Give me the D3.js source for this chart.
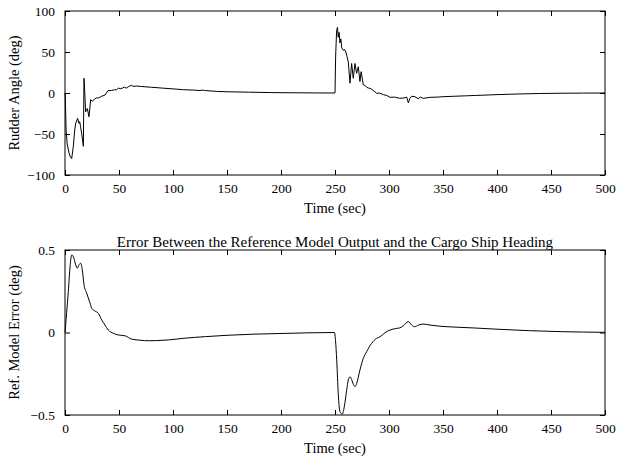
<!DOCTYPE html>
<html>
<head>
<meta charset="utf-8">
<script src="https://cdn.jsdelivr.net/npm/d3@7"></script>
<style>
  html, body { margin: 0; padding: 0; background: #fff; }
  svg { display: block; }
  text { font-family: "Liberation Serif", "Times New Roman", serif; fill: #000; }
</style>
</head>
<body>
<svg id="chart" width="618" height="459"></svg>
<script>
// Rudder command (deg) over time (sec)
const rudderTime = [0, 0.3, 1, 2, 3.7, 5, 6.2, 7.7, 9, 9.9, 11, 11.7, 12.9, 13.6, 14.4, 15.5, 17, 17.6, 18.5, 19.1, 20, 20.7, 22.2, 23.8, 25.3, 27, 29, 31, 34, 37, 40, 43, 46, 47.8, 49.4, 51, 53, 55, 57, 59, 61.7, 63, 66, 70, 75, 80, 90, 100, 110, 120, 125, 127, 130, 140, 150, 170, 190, 210, 230, 249.5,
  250, 250.6, 251.5, 252.3, 253, 253.8, 254.6, 255.4, 256.3, 257.7, 259, 260, 261, 262.3, 263.9, 265.4, 266.9, 268.5, 270, 271.6, 273.1, 274.2, 276.2, 278, 279.3, 281, 282.4, 284, 285.5, 288.6, 291, 294.8, 298, 301, 305, 310, 314, 316.4, 317.9, 319.4, 321, 324, 327, 329, 331.8, 338, 345, 350, 360, 370, 380, 400, 420, 440, 460, 480, 500];
const rudderAngle = [0, -6, -45, -62, -73, -78, -80, -65, -45, -37, -33, -31, -37, -35, -41, -50, -65, 18, -5, -23, -20, -19, -29, -8, -10, -8, -6, -6, -4, -2.5, 3, 3, 4, 4, 6, 5, 6, 7, 6, 8, 9.5, 8, 8.5, 8, 7.5, 7, 6, 5, 4, 3.5, 3, 3.5, 3, 2, 1.5, 1, 0.5, 0.3, 0.1, 0,
  0, 45, 76, 80, 68, 74, 61, 66, 55, 52, 53, 50, 45, 38, 12, 36, 18, 36, 24, 32, 14, 26, 10, 9, 7, 6, 5.7, 4.4, 3, -0.4, 0, -2, -3, -5.3, -5, -6.5, -6, -5, -12, -6.5, -4, -4.5, -7, -5, -6.5, -5.3, -5, -4.5, -4, -3.5, -3, -2, -1.2, -0.6, -0.3, -0.1, 0];

// Reference model output minus ship heading (deg)
const errorTime = [0, 1.5, 3.1, 4.7, 6.2, 7.7, 9.9, 11.4, 12.9, 14.5, 16, 17.6, 20, 23.1, 24.7, 27.8, 30.9, 34, 37, 40.1, 44.8, 49.4, 55.6, 61.7, 70, 77, 85, 95.7, 110, 130, 150, 175, 200, 225, 249.5,
  250.5, 251.6, 253, 254.6, 256.8, 258.6, 260.8, 262.3, 263.9, 265.4, 267, 268.5, 270, 273.1, 276.2, 279.3, 283.9, 288.6, 291.7, 296.3, 301, 307.1, 310, 313.3, 317.9, 321, 324, 327.2, 331.8, 338, 347.2, 360, 380, 400, 430, 460, 500];
const modelError = [0, 0.12, 0.25, 0.4, 0.47, 0.46, 0.41, 0.39, 0.41, 0.42, 0.38, 0.29, 0.24, 0.18, 0.147, 0.13, 0.116, 0.076, 0.045, 0.015, -0.005, -0.015, -0.02, -0.04, -0.047, -0.05, -0.049, -0.045, -0.035, -0.025, -0.017, -0.01, -0.006, -0.002, 0,
  -0.05, -0.167, -0.37, -0.48, -0.494, -0.45, -0.35, -0.288, -0.268, -0.285, -0.315, -0.328, -0.31, -0.227, -0.157, -0.116, -0.066, -0.035, -0.026, -0.001, 0.015, 0.025, 0.028, 0.041, 0.066, 0.045, 0.035, 0.045, 0.051, 0.045, 0.038, 0.033, 0.027, 0.02, 0.011, 0.005, 0.001];

const timeTicks = [0, 50, 100, 150, 200, 250, 300, 350, 400, 450, 500];
const rudderTicks = [-100, -50, 0, 50, 100];
const errorTicks = [-0.5, 0, 0.5];

const svg = d3.select("#chart");
const left = 65, right = 605, tickLen = 5;

function panel(cfg) {
  const x = d3.scaleLinear().domain([0, 500]).range([left, right]);
  const y = d3.scaleLinear().domain(cfg.domain).range([cfg.bottom, cfg.top]);
  const g = svg.append("g");

  // x axis below, with inward ticks
  g.append("g")
    .attr("transform", `translate(0,${cfg.bottom})`)
    .call(d3.axisBottom(x).tickValues(timeTicks).tickFormat(d3.format("d")).tickSizeInner(-tickLen).tickSizeOuter(0).tickPadding(8))
    .call(a => a.select(".domain").remove())
    .call(a => a.selectAll("text").attr("font-size", 13.5).attr("font-family", "Liberation Serif"));
  // mirrored ticks on top edge
  g.append("g")
    .attr("transform", `translate(0,${cfg.top})`)
    .call(d3.axisTop(x).tickValues(timeTicks).tickFormat("").tickSizeInner(-tickLen).tickSizeOuter(0))
    .call(a => a.select(".domain").remove());
  // y axis, inward ticks
  g.append("g")
    .attr("transform", `translate(${left},0)`)
    .call(d3.axisLeft(y).tickValues(cfg.ticks).tickFormat(cfg.fmt).tickSizeInner(-tickLen).tickSizeOuter(0).tickPadding(10))
    .call(a => a.select(".domain").remove())
    .call(a => a.selectAll("text").attr("font-size", 13.5).attr("font-family", "Liberation Serif"));
  g.append("g")
    .attr("transform", `translate(${right},0)`)
    .call(d3.axisRight(y).tickValues(cfg.ticks).tickFormat("").tickSizeInner(-tickLen).tickSizeOuter(0))
    .call(a => a.select(".domain").remove());

  g.selectAll(".tick line").attr("stroke", "#000");

  // box
  g.append("rect")
    .attr("x", left).attr("y", cfg.top)
    .attr("width", right - left).attr("height", cfg.bottom - cfg.top)
    .attr("fill", "none").attr("stroke", "#000").attr("stroke-width", 1);

  // data line
  const pts = cfg.t.map((t, i) => [t, cfg.v[i]]);
  g.append("path")
    .datum(pts)
    .attr("fill", "none")
    .attr("stroke", "#000")
    .attr("stroke-width", 1)
    .attr("d", d3.line().x(d => x(d[0])).y(d => y(d[1])).curve(cfg.curve)(pts));

  // axis labels
  g.append("text")
    .attr("x", (left + right) / 2).attr("y", cfg.bottom + 38)
    .attr("text-anchor", "middle").attr("font-size", 14.5)
    .text("Time (sec)");
  g.append("text")
    .attr("transform", `translate(19,${(cfg.top + cfg.bottom) / 2}) rotate(-90)`)
    .attr("text-anchor", "middle").attr("font-size", 14.5)
    .text(cfg.ylabel);
  if (cfg.title) {
    g.append("text")
      .attr("x", (left + right) / 2).attr("y", cfg.top - 3)
      .attr("text-anchor", "middle").attr("font-size", 15)
      .text(cfg.title);
  }
}

panel({
  top: 11, bottom: 175, domain: [-100, 100], ticks: rudderTicks, fmt: d3.format("d"),
  t: rudderTime, v: rudderAngle, curve: d3.curveLinear,
  ylabel: "Rudder Angle (deg)"
});

panel({
  top: 250, bottom: 415, domain: [-0.5, 0.5], ticks: errorTicks, fmt: d => d === 0 ? "0" : d3.format(".1f")(d),
  t: errorTime, v: modelError, curve: d3.curveMonotoneX,
  ylabel: "Ref. Model Error (deg)",
  title: "Error Between the Reference Model Output and the Cargo Ship Heading"
});
</script>
</body>
</html>
